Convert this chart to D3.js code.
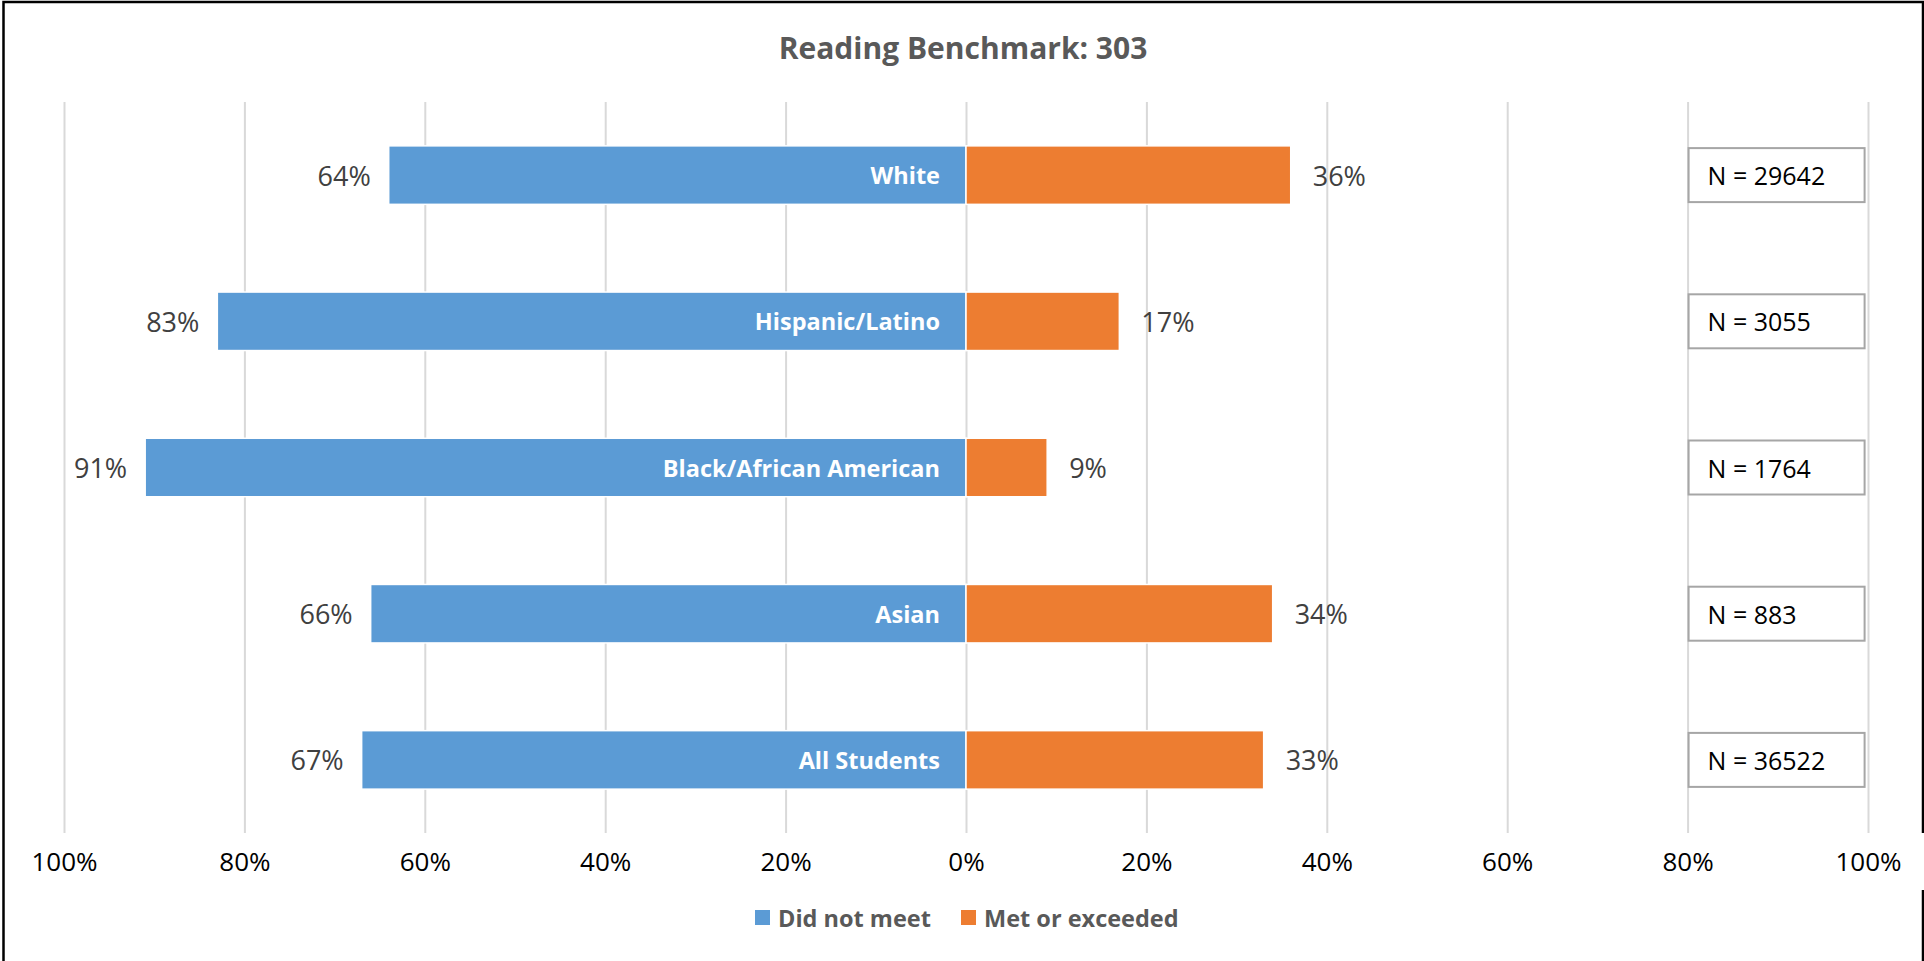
<!DOCTYPE html>
<html>
<head>
<meta charset="utf-8">
<script src="https://cdn.jsdelivr.net/npm/d3@7"></script>
<style>
  body { margin: 0; background: #fff; }
  svg { display: block; font-family: "Open Sans", sans-serif; }
</style>
</head>
<body>
<svg id="chart" width="1924" height="961"></svg>
<script>
// chart data
const categories = ["White", "Hispanic/Latino", "Black/African American", "Asian", "All Students"];
const didNotMeet = [64, 83, 91, 66, 67];
const metOrExceeded = [36, 17, 9, 34, 33];
const counts = [29642, 3055, 1764, 883, 36522];
const tickValues = [-100, -80, -60, -40, -20, 0, 20, 40, 60, 80, 100];
const seriesNames = ["Did not meet", "Met or exceeded"];
const colors = ["#5b9bd5", "#ed7d31"];

const W = 1924, H = 961;
const plotTop = 102, plotBottom = 833;

const svg = d3.select("#chart");

// outer frame (right side has a gap behind the 100% label)
svg.append("path")
  .attr("d", "M3.5,961 L3.5,2 L1923,2 L1923,833 M1923,890 L1923,961")
  .attr("fill", "none")
  .attr("stroke", "#000")
  .attr("stroke-width", 2.5);

// scales
const x = d3.scaleLinear().domain([-100, 100]).range([64, 1868]);
const y = d3.scaleBand().domain(categories).range([plotTop, plotBottom])
  .paddingInner(0.6).paddingOuter(0.3);

// gridlines
const grid = svg.append("g")
  .attr("transform", "translate(0," + plotBottom + ")")
  .call(d3.axisBottom(x).tickValues(tickValues).tickSize(-(plotBottom - plotTop)).tickFormat(""));
grid.select(".domain").remove();
grid.selectAll("line").attr("stroke", "#d9d9d9").attr("stroke-width", 2);

// axis labels
const axis = svg.append("g")
  .attr("transform", "translate(0," + plotBottom + ")")
  .call(d3.axisBottom(x).tickValues(tickValues).tickSize(0).tickPadding(20)
    .tickFormat(d => Math.abs(d) + "%"));
axis.select(".domain").remove();
axis.selectAll("text")
  .attr("font-size", 26)
  .attr("font-family", "'Open Sans', sans-serif")
  .attr("fill", "#000");

// title
svg.append("text")
  .attr("x", 963)
  .attr("y", 47)
  .attr("text-anchor", "middle")
  .attr("dominant-baseline", "central")
  .attr("font-size", 30)
  .attr("font-weight", "bold")
  .attr("fill", "#595959")
  .text("Reading Benchmark: 303");

const rows = categories.map((c, i) => ({
  cat: c, left: didNotMeet[i], right: metOrExceeded[i], n: counts[i]
}));

// left bars (did not meet)
svg.selectAll("rect.left")
  .data(rows)
  .enter()
  .append("rect")
  .attr("class", "left")
  .attr("x", d => x(-d.left))
  .attr("y", d => y(d.cat))
  .attr("width", d => x(0) - x(-d.left))
  .attr("height", y.bandwidth())
  .attr("fill", colors[0])
  .attr("stroke", "#fff")
  .attr("stroke-width", 1.5);

// right bars (met or exceeded)
svg.selectAll("rect.right")
  .data(rows)
  .enter()
  .append("rect")
  .attr("class", "right")
  .attr("x", x(0))
  .attr("y", d => y(d.cat))
  .attr("width", d => x(d.right) - x(0))
  .attr("height", y.bandwidth())
  .attr("fill", colors[1])
  .attr("stroke", "#fff")
  .attr("stroke-width", 1.5);

// category labels inside blue bars
svg.selectAll("text.cat")
  .data(rows)
  .enter()
  .append("text")
  .attr("class", "cat")
  .attr("x", x(0) - 26)
  .attr("y", d => y(d.cat) + y.bandwidth() / 2)
  .attr("text-anchor", "end")
  .attr("dominant-baseline", "central")
  .attr("font-size", 23.5)
  .attr("font-weight", "bold")
  .attr("fill", "#fff")
  .text(d => d.cat);

// value labels
svg.selectAll("text.lval")
  .data(rows)
  .enter()
  .append("text")
  .attr("class", "lval")
  .attr("x", d => x(-d.left) - 18)
  .attr("y", d => y(d.cat) + y.bandwidth() / 2)
  .attr("text-anchor", "end")
  .attr("dominant-baseline", "central")
  .attr("font-size", 27)
  .attr("fill", "#404040")
  .text(d => d.left + "%");

svg.selectAll("text.rval")
  .data(rows)
  .enter()
  .append("text")
  .attr("class", "rval")
  .attr("x", d => x(d.right) + 22)
  .attr("y", d => y(d.cat) + y.bandwidth() / 2)
  .attr("text-anchor", "start")
  .attr("dominant-baseline", "central")
  .attr("font-size", 27)
  .attr("fill", "#404040")
  .text(d => d.right + "%");

// N boxes
const nBox = svg.selectAll("g.nbox")
  .data(rows)
  .enter()
  .append("g")
  .attr("class", "nbox")
  .attr("transform", d => "translate(" + x(80) + "," + (y(d.cat) + y.bandwidth() / 2) + ")");

nBox.append("rect")
  .attr("x", 1)
  .attr("y", -27)
  .attr("width", 176)
  .attr("height", 54)
  .attr("fill", "#fff")
  .attr("stroke", "#a6a6a6")
  .attr("stroke-width", 2);

nBox.append("text")
  .attr("x", 20)
  .attr("y", 0)
  .attr("dominant-baseline", "central")
  .attr("font-size", 25)
  .attr("fill", "#000")
  .text(d => "N = " + d.n);

// legend
const legend = svg.append("g").attr("transform", "translate(755,918)");
const legendX = [0, 206];
seriesNames.forEach((name, i) => {
  const g = legend.append("g").attr("transform", "translate(" + legendX[i] + ",0)");
  g.append("rect")
    .attr("x", 0).attr("y", -8)
    .attr("width", 15).attr("height", 15)
    .attr("fill", colors[i]);
  g.append("text")
    .attr("x", 23)
    .attr("y", 0)
    .attr("dominant-baseline", "central")
    .attr("font-size", 23.5)
    .attr("font-weight", "bold")
    .attr("fill", "#595959")
    .text(name);
});
</script>
</body>
</html>
